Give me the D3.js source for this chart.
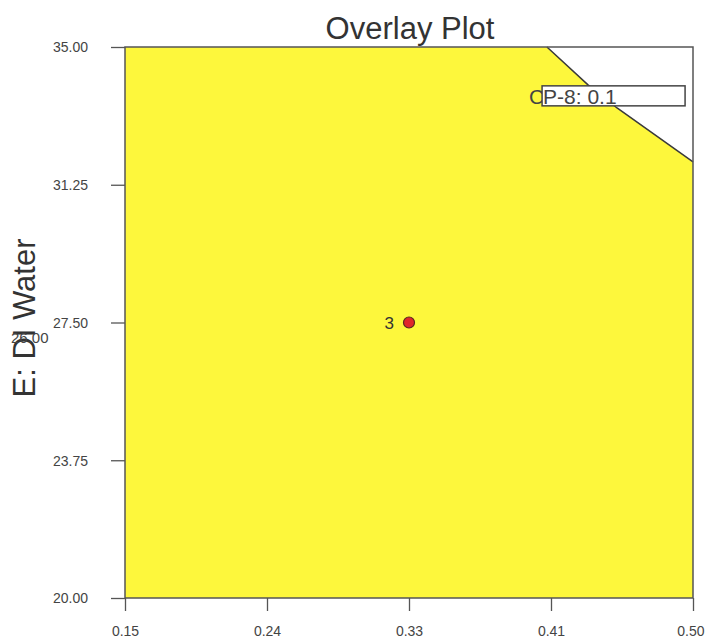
<!DOCTYPE html>
<html><head><meta charset="utf-8">
<script src="https://cdn.jsdelivr.net/npm/d3@7"></script>
<style>body{margin:0;background:#fff}</style>
</head><body>
<svg id="c" width="706" height="639"></svg>
<script>
const xTicks = [0.15, 0.2375, 0.325, 0.4125, 0.50];
const xTickLabels = ["0.15", "0.24", "0.33", "0.41", "0.50"];
const yTicks = [20.00, 23.75, 27.50, 31.25, 35.00];
const yTickLabels = ["20.00", "23.75", "27.50", "31.25", "35.00"];
// boundary of the non-feasible (white) region, top-right corner
const boundaryX = [0.410, 0.4353, 0.4532, 0.50];
const boundaryY = [35.00, 33.97, 33.34, 31.87];
const designPoints = [{x: 0.325, y: 27.50, label: "3"}];
const flagLabel = {x: 0.407, y: 33.67, text: "CP-8: 0.1"};

const svg = d3.select("#c");
const m = {l: 125, r: 13, t: 47, b: 41};
const W = 706, H = 639;
const x = d3.scaleLinear().domain([0.15, 0.50]).range([m.l, W - m.r]);
const y = d3.scaleLinear().domain([20, 35]).range([H - m.b, m.t]);
const font = "Arial, 'Liberation Sans', sans-serif";

// yellow feasible region
const pts = [[0.15, 20], [0.15, 35]];
boundaryX.forEach((bx, i) => pts.push([bx, boundaryY[i]]));
pts.push([0.50, 20]);
svg.append("path")
  .attr("d", d3.line().x(d => x(d[0])).y(d => y(d[1]))(pts) + "Z")
  .attr("fill", "#fdf73c");

// boundary line
svg.append("path")
  .attr("d", d3.line().x((d, i) => x(d)).y((d, i) => y(boundaryY[i]))(boundaryX))
  .attr("fill", "none").attr("stroke", "#3a3a3a").attr("stroke-width", 1.5);

// frame
svg.append("rect").attr("x", x(0.15)).attr("y", y(35))
  .attr("width", x(0.5) - x(0.15)).attr("height", y(20) - y(35))
  .attr("fill", "none").attr("stroke", "#555").attr("stroke-width", 1.5);

// axes
const xAxis = d3.axisBottom(x).tickValues(xTicks).tickSize(13).tickSizeOuter(0)
  .tickFormat((d, i) => xTickLabels[i]);
const gx = svg.append("g").attr("transform", `translate(0,${y(20)})`).call(xAxis);
gx.select(".domain").remove();
gx.selectAll("line").attr("stroke", "#555").attr("stroke-width", 1.3);
gx.selectAll("text").attr("font-family", font).attr("font-size", 14)
  .attr("fill", "#444").attr("y", 38).attr("dy", 0);
gx.selectAll("text").filter((d, i) => i === xTicks.length - 1)
  .attr("text-anchor", "end").attr("x", 11);

const yAxis = d3.axisLeft(y).tickValues(yTicks).tickSize(14).tickSizeOuter(0)
  .tickFormat((d, i) => yTickLabels[i]);
const gy = svg.append("g").attr("transform", `translate(${x(0.15)},0)`).call(yAxis);
gy.select(".domain").remove();
gy.selectAll("line").attr("stroke", "#555").attr("stroke-width", 1.3);
gy.selectAll("text").attr("font-family", font).attr("font-size", 14)
  .attr("fill", "#444").attr("x", -37).attr("dy", "0.35em");

// title
svg.append("text").attr("x", 410).attr("y", 39).attr("text-anchor", "middle")
  .attr("font-family", font).attr("font-size", 31).attr("fill", "#333")
  .text("Overlay Plot");

// y axis title
svg.append("text").attr("transform", "translate(35,318) rotate(-90)")
  .attr("text-anchor", "middle").attr("font-family", font).attr("font-size", 31)
  .attr("fill", "#333").text("E: DI Water");
svg.append("text").attr("x", 11).attr("y", 343)
  .attr("font-family", font).attr("font-size", 15).attr("fill", "#444")
  .text("26.00");

// flag label
const fx = x(flagLabel.x), fy = y(flagLabel.y);
svg.append("text").attr("x", fx - 13).attr("y", fy + 8)
  .attr("font-family", font).attr("font-size", 21).attr("fill", "#444")
  .text(flagLabel.text.charAt(0));
svg.append("rect").attr("x", fx).attr("y", fy - 10).attr("width", 143).attr("height", 20)
  .attr("fill", "#fff").attr("stroke", "#444").attr("stroke-width", 1.5);
svg.append("text").attr("x", fx + 1).attr("y", fy + 8)
  .attr("font-family", font).attr("font-size", 21).attr("fill", "#444")
  .text(flagLabel.text.slice(1));

// design points
designPoints.forEach(p => {
  svg.append("circle").attr("cx", x(p.x)).attr("cy", y(p.y)).attr("r", 5.5)
    .attr("fill", "#e0262a").attr("stroke", "#5a2a20").attr("stroke-width", 1.2);
  svg.append("text").attr("x", x(p.x) - 15).attr("y", y(p.y) + 6)
    .attr("text-anchor", "end").attr("font-family", font).attr("font-size", 17)
    .attr("fill", "#333").text(p.label);
});
</script>
</body></html>
